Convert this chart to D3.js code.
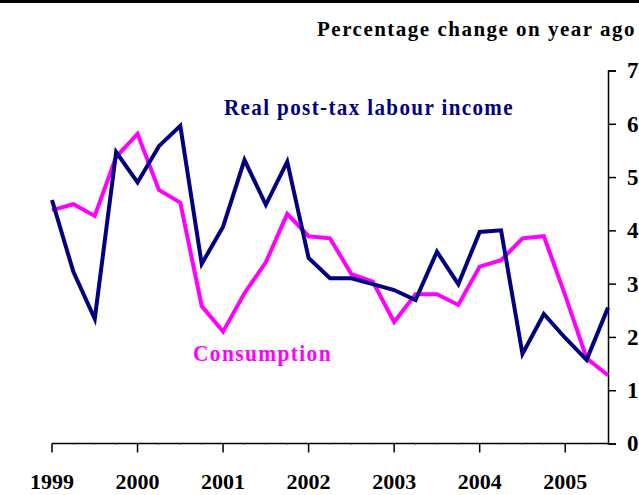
<!DOCTYPE html>
<html>
<head>
<meta charset="utf-8">
<script src="https://cdn.jsdelivr.net/npm/d3@7"></script>
<style>
  body { margin: 0; background: #fff; }
  text { font-family: "Liberation Serif", "Times New Roman", serif; font-weight: bold; }
</style>
</head>
<body>
<svg id="chart" width="639" height="495"></svg>
<script>
// quarterly, 1999 Q1 .. 2005 Q3
let yearLabels = ["1999", "2000", "2001", "2002", "2003", "2004", "2005"];
let yTicks = [0, 1, 2, 3, 4, 5, 6, 7];

let income = [4.57, 3.22, 2.34, 5.47, 4.9, 5.58, 5.96, 3.37, 4.07, 5.32, 4.48, 5.29,
  3.48, 3.1, 3.1, 2.99, 2.88, 2.69, 3.6, 2.99, 3.97, 4.0, 1.68, 2.43, 1.98, 1.57, 2.55];
let consumption = [4.38, 4.49, 4.27, 5.38, 5.81, 4.76, 4.52, 2.58, 2.1, 2.82, 3.4, 4.31,
  3.89, 3.85, 3.18, 3.04, 2.28, 2.8, 2.8, 2.6, 3.32, 3.44, 3.85, 3.89, 2.78, 1.6, 1.28];

let svg = d3.select("svg#chart");

let x = d3.scaleLinear().domain([0, 26]).range([52, 608]);
let y = d3.scaleLinear().domain([0, 7]).range([443.5, 70.5]);

// rule at top of the page
svg.append("line")
  .attr("x1", 0).attr("x2", 639)
  .attr("y1", 1.5).attr("y2", 1.5)
  .style("stroke", "#000").style("stroke-width", 3);

// x axis: quarter ticks tiny, year ticks long
svg.append("line")
  .attr("x1", x(0)).attr("x2", x(26))
  .attr("y1", y(0)).attr("y2", y(0))
  .style("stroke", "#000").style("stroke-width", 1.5);

svg.selectAll("line.qtick")
  .data(d3.range(27).filter(i => i % 4 != 0))
  .enter()
  .append("line")
  .attr("class", "qtick")
  .attr("x1", i => x(i)).attr("x2", i => x(i))
  .attr("y1", y(0)).attr("y2", y(0) + 1.5)
  .style("stroke", "#666").style("stroke-width", 1);

svg.selectAll("line.ytick")
  .data(yearLabels)
  .enter()
  .append("line")
  .attr("class", "ytick")
  .attr("x1", (d, i) => x(i * 4)).attr("x2", (d, i) => x(i * 4))
  .attr("y1", y(0)).attr("y2", y(0) + 9)
  .style("stroke", "#000").style("stroke-width", 1.5);

svg.selectAll("text.year")
  .data(yearLabels)
  .enter()
  .append("text")
  .attr("class", "year")
  .attr("x", (d, i) => x(i * 4))
  .attr("y", 489)
  .attr("text-anchor", "middle")
  .style("font-size", "22px")
  .text(d => d);

// right-hand value axis
let yAxis = svg.append("g")
  .attr("transform", "translate(" + x(26) + ",0)")
  .call(d3.axisRight(y).tickValues(yTicks).tickSize(8).tickPadding(11).tickFormat(d3.format("d")));
yAxis.select(".domain").style("stroke-width", 1.5);
yAxis.selectAll(".tick line").style("stroke-width", 1.5);
yAxis.selectAll(".tick text")
  .style("font-family", "Liberation Serif, serif")
  .style("font-weight", "bold")
  .style("font-size", "23px");

let line = d3.line().x((d, i) => x(i)).y(d => y(d));

svg.append("path")
  .datum(consumption)
  .attr("d", line)
  .style("fill", "none")
  .style("stroke", "#ff00ff")
  .style("stroke-width", 4)
  .style("stroke-linejoin", "miter");

svg.append("path")
  .datum(income)
  .attr("d", line)
  .style("fill", "none")
  .style("stroke", "#000080")
  .style("stroke-width", 4)
  .style("stroke-linejoin", "miter");

svg.append("text")
  .attr("x", 317).attr("y", 36)
  .attr("textLength", 319).attr("lengthAdjust", "spacingAndGlyphs")
  .style("font-size", "21px")
  .style("letter-spacing", "1.5px")
  .text("Percentage change on year ago");

svg.append("text")
  .attr("x", 224).attr("y", 115)
  .attr("textLength", 290).attr("lengthAdjust", "spacingAndGlyphs")
  .style("font-size", "23px")
  .style("letter-spacing", "1.5px")
  .style("fill", "#000080")
  .text("Real post-tax labour income");

svg.append("text")
  .attr("x", 193).attr("y", 361)
  .attr("textLength", 139).attr("lengthAdjust", "spacingAndGlyphs")
  .style("font-size", "23px")
  .style("letter-spacing", "1.5px")
  .style("fill", "#ff00ff")
  .text("Consumption");
</script>
</body>
</html>
